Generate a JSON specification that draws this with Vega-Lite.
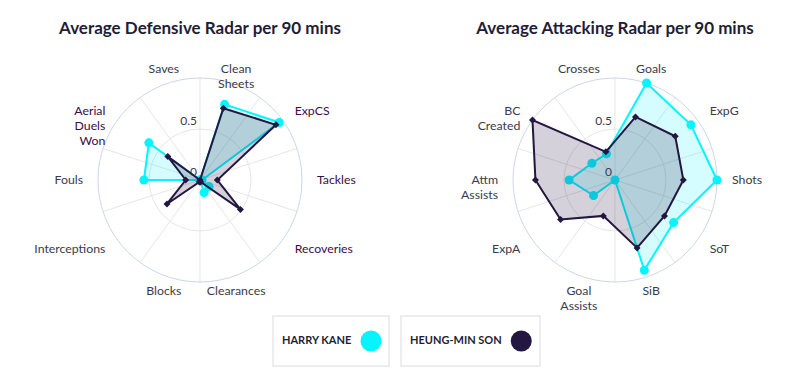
{
  "$schema": "https://vega.github.io/schema/vega-lite/v6.json",
  "background": "white",
  "padding": {"left": 0, "right": 0, "top": 20, "bottom": 0},
  "config": {"view": {"stroke": null}, "font": "Lato"},
  "datasets": {
    "axes": [
      {"chart": "def", "stat": "Clean Sheets", "label": "Clean\nSheets", "i": 0},
      {"chart": "def", "stat": "ExpCS", "label": "ExpCS", "i": 1},
      {"chart": "def", "stat": "Tackles", "label": "Tackles", "i": 2},
      {"chart": "def", "stat": "Recoveries", "label": "Recoveries", "i": 3},
      {"chart": "def", "stat": "Clearances", "label": "Clearances", "i": 4},
      {"chart": "def", "stat": "Blocks", "label": "Blocks", "i": 5},
      {"chart": "def", "stat": "Interceptions", "label": "Interceptions", "i": 6},
      {"chart": "def", "stat": "Fouls", "label": "Fouls", "i": 7},
      {"chart": "def", "stat": "Aerial Duels Won", "label": "Aerial\nDuels\nWon", "i": 8},
      {"chart": "def", "stat": "Saves", "label": "Saves", "i": 9},
      {"chart": "att", "stat": "Goals", "label": "Goals", "i": 0},
      {"chart": "att", "stat": "ExpG", "label": "ExpG", "i": 1},
      {"chart": "att", "stat": "Shots", "label": "Shots", "i": 2},
      {"chart": "att", "stat": "SoT", "label": "SoT", "i": 3},
      {"chart": "att", "stat": "SiB", "label": "SiB", "i": 4},
      {"chart": "att", "stat": "Goal Assists", "label": "Goal\nAssists", "i": 5},
      {"chart": "att", "stat": "ExpA", "label": "ExpA", "i": 6},
      {"chart": "att", "stat": "Attm Assists", "label": "Attm\nAssists", "i": 7},
      {"chart": "att", "stat": "BC Created", "label": "BC\nCreated", "i": 8},
      {"chart": "att", "stat": "Crosses", "label": "Crosses", "i": 9}
    ],
    "stats": [
      {"chart": "def", "player": "Harry Kane", "stat": "Clean Sheets", "i": 0, "value": 0.78},
      {"chart": "def", "player": "Harry Kane", "stat": "ExpCS", "i": 1, "value": 0.96},
      {"chart": "def", "player": "Harry Kane", "stat": "Tackles", "i": 2, "value": 0.02},
      {"chart": "def", "player": "Harry Kane", "stat": "Recoveries", "i": 3, "value": 0.11},
      {"chart": "def", "player": "Harry Kane", "stat": "Clearances", "i": 4, "value": 0.13},
      {"chart": "def", "player": "Harry Kane", "stat": "Blocks", "i": 5, "value": 0.0},
      {"chart": "def", "player": "Harry Kane", "stat": "Interceptions", "i": 6, "value": 0.0},
      {"chart": "def", "player": "Harry Kane", "stat": "Fouls", "i": 7, "value": 0.55},
      {"chart": "def", "player": "Harry Kane", "stat": "Aerial Duels Won", "i": 8, "value": 0.62},
      {"chart": "def", "player": "Harry Kane", "stat": "Saves", "i": 9, "value": 0.0},
      {"chart": "def", "player": "Heung-Min Son", "stat": "Clean Sheets", "i": 0, "value": 0.74},
      {"chart": "def", "player": "Heung-Min Son", "stat": "ExpCS", "i": 1, "value": 0.92},
      {"chart": "def", "player": "Heung-Min Son", "stat": "Tackles", "i": 2, "value": 0.17},
      {"chart": "def", "player": "Heung-Min Son", "stat": "Recoveries", "i": 3, "value": 0.49},
      {"chart": "def", "player": "Heung-Min Son", "stat": "Clearances", "i": 4, "value": 0.02},
      {"chart": "def", "player": "Heung-Min Son", "stat": "Blocks", "i": 5, "value": 0.02},
      {"chart": "def", "player": "Heung-Min Son", "stat": "Interceptions", "i": 6, "value": 0.40},
      {"chart": "def", "player": "Heung-Min Son", "stat": "Fouls", "i": 7, "value": 0.14},
      {"chart": "def", "player": "Heung-Min Son", "stat": "Aerial Duels Won", "i": 8, "value": 0.39},
      {"chart": "def", "player": "Heung-Min Son", "stat": "Saves", "i": 9, "value": 0.0},
      {"chart": "att", "player": "Harry Kane", "stat": "Goals", "i": 0, "value": 1.0},
      {"chart": "att", "player": "Harry Kane", "stat": "ExpG", "i": 1, "value": 0.92},
      {"chart": "att", "player": "Harry Kane", "stat": "Shots", "i": 2, "value": 1.0},
      {"chart": "att", "player": "Harry Kane", "stat": "SoT", "i": 3, "value": 0.71},
      {"chart": "att", "player": "Harry Kane", "stat": "SiB", "i": 4, "value": 0.93},
      {"chart": "att", "player": "Harry Kane", "stat": "Goal Assists", "i": 5, "value": 0.0},
      {"chart": "att", "player": "Harry Kane", "stat": "ExpA", "i": 6, "value": 0.26},
      {"chart": "att", "player": "Harry Kane", "stat": "Attm Assists", "i": 7, "value": 0.45},
      {"chart": "att", "player": "Harry Kane", "stat": "BC Created", "i": 8, "value": 0.28},
      {"chart": "att", "player": "Harry Kane", "stat": "Crosses", "i": 9, "value": 0.27},
      {"chart": "att", "player": "Heung-Min Son", "stat": "Goals", "i": 0, "value": 0.65},
      {"chart": "att", "player": "Heung-Min Son", "stat": "ExpG", "i": 1, "value": 0.73},
      {"chart": "att", "player": "Heung-Min Son", "stat": "Shots", "i": 2, "value": 0.67},
      {"chart": "att", "player": "Heung-Min Son", "stat": "SoT", "i": 3, "value": 0.60},
      {"chart": "att", "player": "Heung-Min Son", "stat": "SiB", "i": 4, "value": 0.70},
      {"chart": "att", "player": "Heung-Min Son", "stat": "Goal Assists", "i": 5, "value": 0.37},
      {"chart": "att", "player": "Heung-Min Son", "stat": "ExpA", "i": 6, "value": 0.66},
      {"chart": "att", "player": "Heung-Min Son", "stat": "Attm Assists", "i": 7, "value": 0.78},
      {"chart": "att", "player": "Heung-Min Son", "stat": "BC Created", "i": 8, "value": 1.0},
      {"chart": "att", "player": "Heung-Min Son", "stat": "Crosses", "i": 9, "value": 0.29}
    ],
    "rings": [{"r": 1.0}, {"r": 0.5}],
    "ticks": [{"r": 0, "label": "0"}, {"r": 0.5, "label": "0.5"}],
    "players": [
      {"player": "Harry Kane", "name": "HARRY KANE"},
      {"player": "Heung-Min Son", "name": "HEUNG-MIN SON"}
    ]
  },
  "vconcat": [
    {
      "spacing": 20,
      "hconcat": [
        {
          "title": {"text": "Average Defensive Radar per 90 mins", "fontSize": 17, "fontWeight": "bold", "color": "#1f1d36", "anchor": "middle", "dx": 10, "offset": 12, "font": "Lato"},
          "width": 380,
          "height": 255,
          "layer": [
            {
              "data": {"name": "axes"},
              "transform": [
                {"filter": "datum.chart == 'def'"},
                {"calculate": "datum.i * PI / 5", "as": "a"},
                {"calculate": "sin(datum.a)", "as": "sx"},
                {"calculate": "cos(datum.a)", "as": "sy"}
              ],
              "mark": {"type": "rule", "stroke": "#e6e6e6", "strokeWidth": 1},
              "encoding": {
                "x": {"field": "sx", "type": "quantitative", "scale": {"domain": [-1.96078, 1.76471], "nice": false, "zero": false}, "axis": null},
                "y": {"field": "sy", "type": "quantitative", "scale": {"domain": [-1.22549, 1.27451], "nice": false, "zero": false}, "axis": null},
                "x2": {"datum": 0},
                "y2": {"datum": 0}
              }
            },
            {
              "data": {"name": "rings"},
              "mark": {"type": "point", "shape": "circle", "filled": false, "strokeWidth": 1, "opacity": 1},
              "encoding": {
                "x": {"datum": 0, "type": "quantitative", "scale": {"domain": [-1.96078, 1.76471], "nice": false, "zero": false}, "axis": null},
                "y": {"datum": 0, "type": "quantitative", "scale": {"domain": [-1.22549, 1.27451], "nice": false, "zero": false}, "axis": null},
                "size": {"field": "r", "type": "quantitative", "scale": {"type": "pow", "exponent": 2, "domain": [0, 1], "range": [0, 41616]}, "legend": null},
                "stroke": {"field": "r", "type": "ordinal", "scale": {"domain": [0.5, 1], "range": ["#e6e6e6", "#ccd6eb"]}, "legend": null}
              }
            },
            {
              "data": {"name": "ticks"},
              "mark": {"type": "text", "align": "right", "baseline": "bottom", "dx": -3, "dy": -1, "fontSize": 12, "color": "#3a3a4a"},
              "encoding": {
                "x": {"datum": 0, "type": "quantitative", "scale": {"domain": [-1.96078, 1.76471], "nice": false, "zero": false}, "axis": null},
                "y": {"field": "r", "type": "quantitative", "scale": {"domain": [-1.22549, 1.27451], "nice": false, "zero": false}, "axis": null},
                "text": {"field": "label", "type": "nominal"}
              }
            },
            {
              "data": {"name": "axes"},
              "transform": [
                {"filter": "datum.chart == 'def'"},
                {"calculate": "(datum.i + 0.5) * PI / 5", "as": "a"},
                {"calculate": "1.147 * sin(datum.a)", "as": "lx"},
                {"calculate": "1.147 * cos(datum.a)", "as": "ly"},
                {"calculate": "abs(sin(datum.a)) < 0.5 ? 'center' : (sin(datum.a) > 0 ? 'left' : 'right')", "as": "al"}
              ],
              "mark": {"type": "text", "align": {"expr": "datum.al"}, "baseline": "middle", "lineBreak": "\n", "lineHeight": 15, "fontSize": 12.3},
              "encoding": {
                "x": {"field": "lx", "type": "quantitative", "scale": {"domain": [-1.96078, 1.76471], "nice": false, "zero": false}, "axis": null},
                "y": {"field": "ly", "type": "quantitative", "scale": {"domain": [-1.22549, 1.27451], "nice": false, "zero": false}, "axis": null},
                "text": {"field": "label", "type": "nominal"},
                "color": {"condition": {"test": "indexof(['ExpCS','Tackles','Recoveries','Aerial Duels Won'], datum.stat) >= 0", "value": "#3c0c48"}, "value": "#3a3a4a"}
              }
            },
            {
              "data": {"name": "stats"},
              "transform": [
                {"filter": "datum.chart == 'def' && datum.player == 'Harry Kane'"},
                {"calculate": "(datum.i + 0.5) * PI / 5", "as": "a"},
                {"calculate": "datum.value * sin(datum.a)", "as": "px"},
                {"calculate": "datum.value * cos(datum.a)", "as": "py"}
              ],
              "mark": {"type": "line", "interpolate": "linear-closed", "stroke": "#04f5ff", "strokeWidth": 2, "fill": "#04f5ff", "fillOpacity": 0.17},
              "encoding": {
                "x": {"field": "px", "type": "quantitative", "scale": {"domain": [-1.96078, 1.76471], "nice": false, "zero": false}, "axis": null},
                "y": {"field": "py", "type": "quantitative", "scale": {"domain": [-1.22549, 1.27451], "nice": false, "zero": false}, "axis": null},
                "order": {"field": "i", "type": "quantitative"}
              }
            },
            {
              "data": {"name": "stats"},
              "transform": [
                {"filter": "datum.chart == 'def' && datum.player == 'Harry Kane'"},
                {"calculate": "(datum.i + 0.5) * PI / 5", "as": "a"},
                {"calculate": "datum.value * sin(datum.a)", "as": "px"},
                {"calculate": "datum.value * cos(datum.a)", "as": "py"}
              ],
              "mark": {"type": "point", "shape": "circle", "filled": true, "size": 81, "color": "#04f5ff", "opacity": 1},
              "encoding": {
                "x": {"field": "px", "type": "quantitative", "scale": {"domain": [-1.96078, 1.76471], "nice": false, "zero": false}, "axis": null},
                "y": {"field": "py", "type": "quantitative", "scale": {"domain": [-1.22549, 1.27451], "nice": false, "zero": false}, "axis": null}
              }
            },
            {
              "data": {"name": "stats"},
              "transform": [
                {"filter": "datum.chart == 'def' && datum.player == 'Heung-Min Son'"},
                {"calculate": "(datum.i + 0.5) * PI / 5", "as": "a"},
                {"calculate": "datum.value * sin(datum.a)", "as": "px"},
                {"calculate": "datum.value * cos(datum.a)", "as": "py"}
              ],
              "mark": {"type": "line", "interpolate": "linear-closed", "stroke": "#231640", "strokeWidth": 2, "fill": "#2a1a45", "fillOpacity": 0.2},
              "encoding": {
                "x": {"field": "px", "type": "quantitative", "scale": {"domain": [-1.96078, 1.76471], "nice": false, "zero": false}, "axis": null},
                "y": {"field": "py", "type": "quantitative", "scale": {"domain": [-1.22549, 1.27451], "nice": false, "zero": false}, "axis": null},
                "order": {"field": "i", "type": "quantitative"}
              }
            },
            {
              "data": {"name": "stats"},
              "transform": [
                {"filter": "datum.chart == 'def' && datum.player == 'Heung-Min Son'"},
                {"calculate": "(datum.i + 0.5) * PI / 5", "as": "a"},
                {"calculate": "datum.value * sin(datum.a)", "as": "px"},
                {"calculate": "datum.value * cos(datum.a)", "as": "py"}
              ],
              "mark": {"type": "point", "shape": "diamond", "filled": true, "size": 49, "color": "#231640", "opacity": 1},
              "encoding": {
                "x": {"field": "px", "type": "quantitative", "scale": {"domain": [-1.96078, 1.76471], "nice": false, "zero": false}, "axis": null},
                "y": {"field": "py", "type": "quantitative", "scale": {"domain": [-1.22549, 1.27451], "nice": false, "zero": false}, "axis": null}
              }
            }
          ]
        },
        {
          "title": {"text": "Average Attacking Radar per 90 mins", "fontSize": 17, "fontWeight": "bold", "color": "#1f1d36", "anchor": "middle", "dx": 25, "offset": 12, "font": "Lato"},
          "width": 380,
          "height": 255,
          "layer": [
            {
              "data": {"name": "axes"},
              "transform": [
                {"filter": "datum.chart == 'att'"},
                {"calculate": "datum.i * PI / 5", "as": "a"},
                {"calculate": "sin(datum.a)", "as": "sx"},
                {"calculate": "cos(datum.a)", "as": "sy"}
              ],
              "mark": {"type": "rule", "stroke": "#e6e6e6", "strokeWidth": 1},
              "encoding": {
                "x": {"field": "sx", "type": "quantitative", "scale": {"domain": [-2.10784, 1.61765], "nice": false, "zero": false}, "axis": null},
                "y": {"field": "sy", "type": "quantitative", "scale": {"domain": [-1.22549, 1.27451], "nice": false, "zero": false}, "axis": null},
                "x2": {"datum": 0},
                "y2": {"datum": 0}
              }
            },
            {
              "data": {"name": "rings"},
              "mark": {"type": "point", "shape": "circle", "filled": false, "strokeWidth": 1, "opacity": 1},
              "encoding": {
                "x": {"datum": 0, "type": "quantitative", "scale": {"domain": [-2.10784, 1.61765], "nice": false, "zero": false}, "axis": null},
                "y": {"datum": 0, "type": "quantitative", "scale": {"domain": [-1.22549, 1.27451], "nice": false, "zero": false}, "axis": null},
                "size": {"field": "r", "type": "quantitative", "scale": {"type": "pow", "exponent": 2, "domain": [0, 1], "range": [0, 41616]}, "legend": null},
                "stroke": {"field": "r", "type": "ordinal", "scale": {"domain": [0.5, 1], "range": ["#e6e6e6", "#ccd6eb"]}, "legend": null}
              }
            },
            {
              "data": {"name": "stats"},
              "transform": [
                {"filter": "datum.chart == 'att' && datum.player == 'Harry Kane'"},
                {"calculate": "(datum.i + 0.5) * PI / 5", "as": "a"},
                {"calculate": "datum.value * sin(datum.a)", "as": "px"},
                {"calculate": "datum.value * cos(datum.a)", "as": "py"}
              ],
              "mark": {"type": "line", "interpolate": "linear-closed", "stroke": "#04f5ff", "strokeWidth": 2, "fill": "#04f5ff", "fillOpacity": 0.17},
              "encoding": {
                "x": {"field": "px", "type": "quantitative", "scale": {"domain": [-2.10784, 1.61765], "nice": false, "zero": false}, "axis": null},
                "y": {"field": "py", "type": "quantitative", "scale": {"domain": [-1.22549, 1.27451], "nice": false, "zero": false}, "axis": null},
                "order": {"field": "i", "type": "quantitative"}
              }
            },
            {
              "data": {"name": "stats"},
              "transform": [
                {"filter": "datum.chart == 'att' && datum.player == 'Harry Kane'"},
                {"calculate": "(datum.i + 0.5) * PI / 5", "as": "a"},
                {"calculate": "datum.value * sin(datum.a)", "as": "px"},
                {"calculate": "datum.value * cos(datum.a)", "as": "py"}
              ],
              "mark": {"type": "point", "shape": "circle", "filled": true, "size": 81, "color": "#04f5ff", "opacity": 1},
              "encoding": {
                "x": {"field": "px", "type": "quantitative", "scale": {"domain": [-2.10784, 1.61765], "nice": false, "zero": false}, "axis": null},
                "y": {"field": "py", "type": "quantitative", "scale": {"domain": [-1.22549, 1.27451], "nice": false, "zero": false}, "axis": null}
              }
            },
            {
              "data": {"name": "stats"},
              "transform": [
                {"filter": "datum.chart == 'att' && datum.player == 'Heung-Min Son'"},
                {"calculate": "(datum.i + 0.5) * PI / 5", "as": "a"},
                {"calculate": "datum.value * sin(datum.a)", "as": "px"},
                {"calculate": "datum.value * cos(datum.a)", "as": "py"}
              ],
              "mark": {"type": "line", "interpolate": "linear-closed", "stroke": "#231640", "strokeWidth": 2, "fill": "#2a1a45", "fillOpacity": 0.2},
              "encoding": {
                "x": {"field": "px", "type": "quantitative", "scale": {"domain": [-2.10784, 1.61765], "nice": false, "zero": false}, "axis": null},
                "y": {"field": "py", "type": "quantitative", "scale": {"domain": [-1.22549, 1.27451], "nice": false, "zero": false}, "axis": null},
                "order": {"field": "i", "type": "quantitative"}
              }
            },
            {
              "data": {"name": "stats"},
              "transform": [
                {"filter": "datum.chart == 'att' && datum.player == 'Heung-Min Son'"},
                {"calculate": "(datum.i + 0.5) * PI / 5", "as": "a"},
                {"calculate": "datum.value * sin(datum.a)", "as": "px"},
                {"calculate": "datum.value * cos(datum.a)", "as": "py"}
              ],
              "mark": {"type": "point", "shape": "diamond", "filled": true, "size": 49, "color": "#231640", "opacity": 1},
              "encoding": {
                "x": {"field": "px", "type": "quantitative", "scale": {"domain": [-2.10784, 1.61765], "nice": false, "zero": false}, "axis": null},
                "y": {"field": "py", "type": "quantitative", "scale": {"domain": [-1.22549, 1.27451], "nice": false, "zero": false}, "axis": null}
              }
            },
            {
              "data": {"name": "ticks"},
              "mark": {"type": "text", "align": "right", "baseline": "bottom", "dx": -3, "dy": -1, "fontSize": 12, "color": "#3a3a4a"},
              "encoding": {
                "x": {"datum": 0, "type": "quantitative", "scale": {"domain": [-2.10784, 1.61765], "nice": false, "zero": false}, "axis": null},
                "y": {"field": "r", "type": "quantitative", "scale": {"domain": [-1.22549, 1.27451], "nice": false, "zero": false}, "axis": null},
                "text": {"field": "label", "type": "nominal"}
              }
            },
            {
              "data": {"name": "axes"},
              "transform": [
                {"filter": "datum.chart == 'att'"},
                {"calculate": "(datum.i + 0.5) * PI / 5", "as": "a"},
                {"calculate": "1.147 * sin(datum.a)", "as": "lx"},
                {"calculate": "1.147 * cos(datum.a)", "as": "ly"},
                {"calculate": "abs(sin(datum.a)) < 0.5 ? 'center' : (sin(datum.a) > 0 ? 'left' : 'right')", "as": "al"}
              ],
              "mark": {"type": "text", "align": {"expr": "datum.al"}, "baseline": "middle", "lineBreak": "\n", "lineHeight": 15, "fontSize": 12.3, "color": "#3a3a4a"},
              "encoding": {
                "x": {"field": "lx", "type": "quantitative", "scale": {"domain": [-2.10784, 1.61765], "nice": false, "zero": false}, "axis": null},
                "y": {"field": "ly", "type": "quantitative", "scale": {"domain": [-1.22549, 1.27451], "nice": false, "zero": false}, "axis": null},
                "text": {"field": "label", "type": "nominal"}
              }
            }
          ]
        }
      ]
    },
    {
      "spacing": 10,
      "hconcat": [
        {
          "width": 262,
          "height": 50,
          "data": {"values": []},
          "mark": {"type": "point", "opacity": 0},
          "encoding": {}
        },
        {
          "width": 116,
          "height": 50,
          "data": {"name": "players"},
          "transform": [{"filter": "datum.player == 'Harry Kane'"}],
          "layer": [
            {
              "mark": {"type": "rect", "fill": "white", "stroke": "#e8e8e8", "strokeWidth": 1.5},
              "encoding": {}
            },
            {
              "mark": {"type": "text", "align": "left", "baseline": "middle", "dx": 9, "fontWeight": "bold", "fontSize": 11, "color": "#1f1d36"},
              "encoding": {
                "x": {"field": "player", "type": "nominal", "bandPosition": 0, "scale": {"type": "band", "paddingInner": 0, "paddingOuter": 0}, "axis": null},
                "text": {"field": "name", "type": "nominal"}
              }
            },
            {
              "mark": {"type": "point", "shape": "circle", "filled": true, "size": 441, "opacity": 1},
              "encoding": {
                "x": {"field": "player", "type": "nominal", "bandPosition": 0.845, "scale": {"type": "band", "paddingInner": 0, "paddingOuter": 0}, "axis": null},
                "color": {"field": "player", "type": "nominal", "scale": {"domain": ["Harry Kane", "Heung-Min Son"], "range": ["#04f5ff", "#231640"]}, "legend": null}
              }
            }
          ]
        },
        {
          "width": 139,
          "height": 50,
          "data": {"name": "players"},
          "transform": [{"filter": "datum.player == 'Heung-Min Son'"}],
          "layer": [
            {
              "mark": {"type": "rect", "fill": "white", "stroke": "#e8e8e8", "strokeWidth": 1.5},
              "encoding": {}
            },
            {
              "mark": {"type": "text", "align": "left", "baseline": "middle", "dx": 9, "fontWeight": "bold", "fontSize": 11, "color": "#1f1d36"},
              "encoding": {
                "x": {"field": "player", "type": "nominal", "bandPosition": 0, "scale": {"type": "band", "paddingInner": 0, "paddingOuter": 0}, "axis": null},
                "text": {"field": "name", "type": "nominal"}
              }
            },
            {
              "mark": {"type": "point", "shape": "circle", "filled": true, "size": 441, "opacity": 1},
              "encoding": {
                "x": {"field": "player", "type": "nominal", "bandPosition": 0.865, "scale": {"type": "band", "paddingInner": 0, "paddingOuter": 0}, "axis": null},
                "color": {"field": "player", "type": "nominal", "scale": {"domain": ["Harry Kane", "Heung-Min Son"], "range": ["#04f5ff", "#231640"]}, "legend": null}
              }
            }
          ]
        }
      ]
    }
  ],
  "spacing": 2
}
